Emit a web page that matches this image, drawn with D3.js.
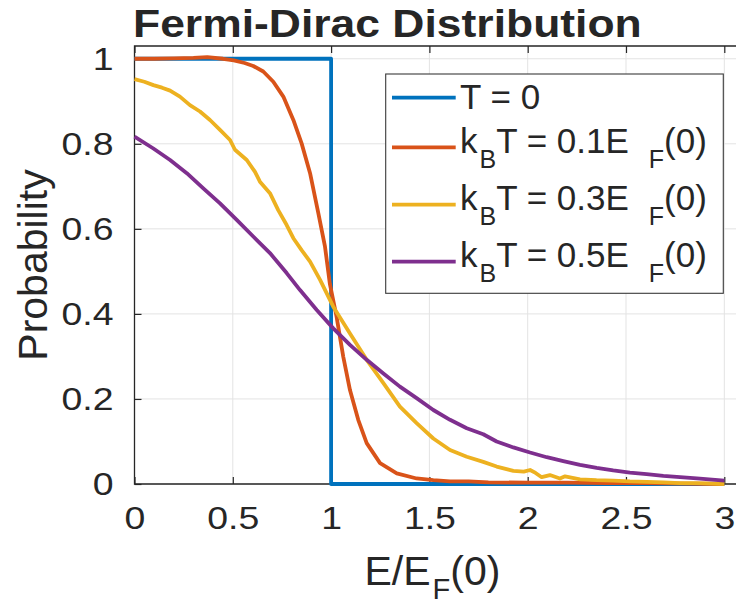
<!DOCTYPE html>
<html>
<head>
<meta charset="utf-8">
<script src="https://cdn.jsdelivr.net/npm/d3@7"></script>
<style>
  body { margin: 0; background: #fff; }
  svg { display: block; }
  text { font-family: "Liberation Sans", Arial, Helvetica, sans-serif; fill: #262626; }
</style>
</head>
<body>
<svg id="chart" width="736" height="605"></svg>
<script>
// ---- data ---------------------------------------------------------------
const xTicks = [0, 0.5, 1, 1.5, 2, 2.5, 3];
const yTicks = [0, 0.2, 0.4, 0.6, 0.8, 1];

const titleText = "Fermi-Dirac Distribution";
const xLabelText = "E/E_F(0)";
const yLabelText = "Probability";

const legendLabels = ["T = 0", "k_BT = 0.1E_F(0)", "k_BT = 0.3E_F(0)", "k_BT = 0.5E_F(0)"];
const seriesColors = ["#0072BD", "#D95319", "#EDB120", "#7E2F8E"];

// T = 0 : step function
const t0E = [0, 1, 1, 3];
const t0P = [1, 1, 0, 0];

// kBT = 0.1 EF(0)
const kt1E = [0, 0.1, 0.2, 0.3, 0.37, 0.45, 0.505, 0.56, 0.604, 0.655, 0.706, 0.757, 0.808, 0.85, 0.893,
  0.935, 0.969, 0.994, 1.028, 1.062, 1.096, 1.138, 1.181, 1.249, 1.334, 1.435, 1.52, 1.605, 1.7, 1.8,
  2.0, 2.2, 2.4, 2.6, 2.8, 3.0];
const kt1P = [1.0, 1.0, 1.001, 1.002, 1.004, 1.0, 0.996, 0.99, 0.983, 0.970, 0.946, 0.911, 0.856, 0.801, 0.731,
  0.637, 0.558, 0.47, 0.393, 0.299, 0.221, 0.151, 0.096, 0.049, 0.025, 0.013, 0.009, 0.006, 0.006, 0.004,
  0.003, 0.003, 0.002, 0.002, 0.001, 0.0];

// kBT = 0.3 EF(0)
const kt3E = [0, 0.05, 0.096, 0.14, 0.181, 0.231, 0.282, 0.333, 0.384, 0.435, 0.486, 0.511, 0.571, 0.613,
  0.638, 0.689, 0.731, 0.774, 0.808, 0.85, 0.893, 0.944, 1.011, 1.096, 1.181, 1.266, 1.35, 1.435, 1.52,
  1.605, 1.69, 1.774, 1.842, 1.927, 1.98, 2.012, 2.04, 2.071, 2.113, 2.164, 2.19, 2.266, 2.35, 2.435, 2.52,
  2.605, 2.69, 2.775, 2.86, 3.0];
const kt3P = [0.952, 0.946, 0.938, 0.932, 0.925, 0.911, 0.891, 0.876, 0.856, 0.833, 0.809, 0.786, 0.762, 0.734,
  0.711, 0.684, 0.644, 0.609, 0.578, 0.550, 0.523, 0.480, 0.417, 0.354, 0.292, 0.237, 0.182, 0.143, 0.107,
  0.080, 0.064, 0.052, 0.041, 0.031, 0.029, 0.033, 0.026, 0.016, 0.021, 0.013, 0.018, 0.011, 0.009, 0.008, 0.006,
  0.005, 0.004, 0.002, 0.002, 0.0];

// kBT = 0.5 EF(0)
const kt5E = [0, 0.096, 0.181, 0.266, 0.35, 0.435, 0.52, 0.604, 0.689, 0.774, 0.842, 0.927, 1.011, 1.096,
  1.181, 1.266, 1.35, 1.435, 1.52, 1.605, 1.69, 1.774, 1.842, 1.927, 2.012, 2.097, 2.181, 2.266, 2.351,
  2.435, 2.52, 2.605, 2.69, 2.775, 2.86, 3.0];
const kt5P = [0.817, 0.789, 0.762, 0.731, 0.695, 0.660, 0.621, 0.582, 0.543, 0.496, 0.456, 0.409, 0.366, 0.327,
  0.292, 0.260, 0.229, 0.202, 0.174, 0.151, 0.131, 0.117, 0.100, 0.086, 0.074, 0.063, 0.054, 0.045, 0.038,
  0.032, 0.027, 0.023, 0.019, 0.016, 0.013, 0.008];

const seriesE = [t0E, kt1E, kt3E, kt5E];
const seriesP = [t0P, kt1P, kt3P, kt5P];

// ---- layout -------------------------------------------------------------
const svg = d3.select("#chart");
const axisColor = "#262626";
const gridColor = "#e3e3e3";
const SX = 1.17;            // horizontal widening of tick and title glyphs

const x = d3.scaleLinear().domain([0, 3]).range([134.5, 724.3]);
const y = d3.scaleLinear().domain([0, 1.03]).range([484, 46]);
const boxRight = 760;       // the axes box runs past the right edge of the figure

// ---- helpers for TeX-style subscripts ------------------------------------
function texSegments(str) {
  const parts = [];
  const re = /_(\{[^}]*\}|.)/g;
  let last = 0, m;
  while ((m = re.exec(str))) {
    if (m.index > last) parts.push({ t: str.slice(last, m.index), sub: false });
    parts.push({ t: m[1].replace(/[{}]/g, ""), sub: true });
    last = re.lastIndex;
  }
  if (last < str.length) parts.push({ t: str.slice(last), sub: false });
  return parts;
}
function writeTex(sel, str, opt) {
  let down = false, k = 0;
  texSegments(str).forEach(p => {
    const ts = sel.append("tspan").text(p.t);
    if (p.sub) {
      ts.attr("font-size", opt.subSize).attr("dy", opt.drop).attr("dx", (opt.subDx || [])[k++] || 0);
      down = true;
    } else if (down) {
      ts.attr("dy", -opt.drop).attr("dx", opt.afterDx || 0);
      down = false;
    }
  });
}

// ---- grid ---------------------------------------------------------------
const grid = svg.append("g");
grid.selectAll(".vg").data(xTicks).join("line")
  .attr("x1", d => x(d)).attr("x2", d => x(d))
  .attr("y1", y.range()[1]).attr("y2", y.range()[0])
  .attr("stroke", gridColor).attr("stroke-width", 1);
grid.selectAll(".hg").data(yTicks).join("line")
  .attr("x1", x.range()[0]).attr("x2", boxRight)
  .attr("y1", d => y(d)).attr("y2", d => y(d))
  .attr("stroke", gridColor).attr("stroke-width", 1);

// ---- axes ---------------------------------------------------------------
const fmt = d3.format("~g");
const xAxis = svg.append("g").attr("transform", `translate(0,${y(0)})`)
  .call(d3.axisBottom(x).tickValues(xTicks).tickFormat(fmt).tickSizeInner(-7).tickSizeOuter(0).tickPadding(22));
const xTop = svg.append("g").attr("transform", `translate(0,${y.range()[1]})`)
  .call(d3.axisTop(x).tickValues(xTicks).tickFormat("").tickSizeInner(-7).tickSizeOuter(0));
const yAxis = svg.append("g").attr("transform", `translate(${x(0)},0)`)
  .call(d3.axisLeft(y).tickValues(yTicks).tickFormat(fmt).tickSizeInner(-7).tickSizeOuter(0).tickPadding(21));

[xAxis, xTop, yAxis].forEach(g => {
  g.select(".domain").remove();
  g.selectAll(".tick line").attr("stroke", axisColor).attr("stroke-width", 1.2);
  g.selectAll("text").attr("font-size", 32).attr("fill", axisColor).style("font-family", null);
});
xAxis.selectAll("text").attr("transform", `scale(${SX},1)`);
yAxis.selectAll("text").attr("x", -21 / SX).attr("transform", `scale(${SX},1)`);

// axes box (left, bottom, top)
svg.append("path")
  .attr("d", `M${boxRight},${y.range()[1]}H${x(0)}V${y(0)}H${boxRight}`)
  .attr("fill", "none").attr("stroke", axisColor).attr("stroke-width", 1.3);

// ---- curves -------------------------------------------------------------
const line = d3.line().x(d => x(d[0])).y(d => y(d[1]));
svg.append("g").selectAll("path")
  .data(seriesE.map((e, i) => e.map((v, j) => [v, seriesP[i][j]])))
  .join("path")
  .attr("d", line)
  .attr("fill", "none")
  .attr("stroke", (d, i) => seriesColors[i])
  .attr("stroke-width", 3.8)
  .attr("stroke-linejoin", "round");

// ---- legend -------------------------------------------------------------
const lg = svg.append("g");
lg.append("rect")
  .attr("x", 385.7).attr("y", 74).attr("width", 337.6).attr("height", 219.3)
  .attr("fill", "#fff").attr("stroke", "#3a3a3a").attr("stroke-width", 1.1);
const rowLineY = [97.7, 147.3, 204.7, 261.7];
const rowBaseY = [109.3, 153.3, 210, 266.7];
legendLabels.forEach((lab, i) => {
  lg.append("line")
    .attr("x1", 392).attr("x2", 455.7)
    .attr("y1", rowLineY[i]).attr("y2", rowLineY[i])
    .attr("stroke", seriesColors[i]).attr("stroke-width", 3.8);
  const t = lg.append("text").attr("x", 460).attr("y", rowBaseY[i]).attr("font-size", 35);
  writeTex(t, lab, { subSize: 25, drop: 15, subDx: [2, 20], afterDx: 0 });
});

// ---- titles -------------------------------------------------------------
svg.append("text")
  .attr("transform", `translate(133,37) scale(${SX},1)`)
  .attr("font-size", 38).attr("font-weight", "bold").attr("fill", "#000")
  .text(titleText);

const xl = svg.append("text")
  .attr("x", (x(0) + x(3)) / 2 + 3).attr("y", 585)
  .attr("text-anchor", "middle").attr("font-size", 41);
writeTex(xl, xLabelText, { subSize: 29, drop: 14, subDx: [2], afterDx: 0 });

svg.append("text")
  .attr("transform", `translate(47,${(y.range()[0] + y.range()[1]) / 2}) rotate(-90)`)
  .attr("text-anchor", "middle").attr("font-size", 41)
  .text(yLabelText);
</script>
</body>
</html>
